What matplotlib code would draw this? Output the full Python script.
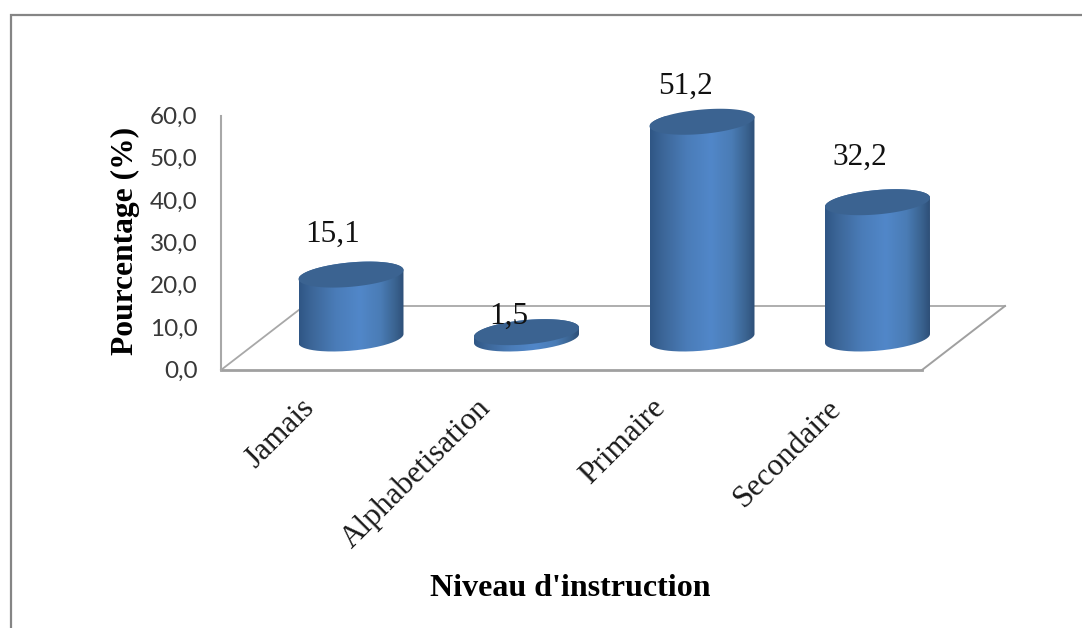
import numpy as np
import matplotlib
matplotlib.use("Agg")
import matplotlib.pyplot as plt
from matplotlib.colors import LinearSegmentedColormap
from matplotlib.lines import Line2D
from matplotlib.patches import PathPatch, Polygon
from matplotlib.path import Path
from matplotlib.transforms import ScaledTranslation

categories = ["Jamais", "Alphabetisation", "Primaire", "Secondaire"]
values = [15.1, 1.5, 51.2, 32.2]
value_ticks = [0, 10, 20, 30, 40, 50, 60]
label_shift_x = [-18, -18, -16, -18]
label_shift_y = [40, 16, 35, 45]

W, H = 1082, 628
AX_L, AX_R, AX_T, AX_B = 221, 1005, 116, 370
SERIF = "Liberation Serif"

fig = plt.figure(figsize=(W / 100, H / 100), dpi=100, facecolor="white")
ax = fig.add_axes([AX_L / W, 1 - AX_B / H, (AX_R - AX_L) / W, (AX_B - AX_T) / H])

# Scales: category index on x, percent on y
step_px = 175.5
x_min = (AX_L - 351) / step_px
x_max = (AX_R - 351) / step_px
px_per_unit = (AX_B - AX_T) / 60.0
ax.set_xlim(x_min, x_max)
ax.set_ylim(0, 60)
ax.patch.set_visible(False)


def px_x(dx):
    return dx / step_px


def px_y(dy):
    return dy / px_per_unit


# Chart floor in perspective
floor_depth = px_y(64)
floor_skew = px_x(83)
floor_right = x_min + px_x(701)
wall = "#a8a8a8"
ax.plot([x_min, x_min + floor_skew, x_max], [0, floor_depth, floor_depth],
        color="#a8a8a8", lw=1.3, zorder=1, clip_on=False, solid_joinstyle="miter")
ax.plot([x_max, floor_right], [floor_depth, 0], color="#a0a0a0", lw=1.4, zorder=1, clip_on=False)
ax.plot([x_min, floor_right], [0, 0], color="#a0a0a0", lw=2.0, zorder=1, clip_on=False)

for side in ("top", "right", "bottom"):
    ax.spines[side].set_visible(False)
ax.spines["left"].set_color(wall)
ax.spines["left"].set_linewidth(1.5)

# Value axis
ax.set_yticks(value_ticks)
ax.set_yticklabels([f"{v:.1f}".replace(".", ",") for v in value_ticks],
                   fontname="Lato", fontsize=17.5, color="#383838")
ax.tick_params(axis="y", length=0, pad=17)
for lab in ax.get_yticklabels():
    lab.set_transform(lab.get_transform() + ScaledTranslation(0, 0.5 / 100, fig.dpi_scale_trans))

# Category axis with slanted labels
ax.set_xticks(range(len(categories)))
ax.set_xticklabels(categories, fontname=SERIF, fontsize=22.5, color="#1a1a1a",
                   rotation=45, ha="right", va="top", rotation_mode="anchor")
ax.tick_params(axis="x", length=0, pad=17)
for lab in ax.get_xticklabels():
    lab.set_transform(lab.get_transform() + ScaledTranslation(-51 / 100, 0, fig.dpi_scale_trans))

ax.set_ylabel("Pourcentage (%)", fontname=SERIF, fontweight="bold", fontsize=22.7, color="black")
ax.yaxis.set_label_coords((125 - AX_L) / (AX_R - AX_L), (AX_B - 241) / (AX_B - AX_T))
ax.set_xlabel("Niveau d'instruction", fontname=SERIF, fontweight="bold", fontsize=23, color="black")
ax.xaxis.set_label_coords((570 - AX_L) / (AX_R - AX_L), (AX_B - 588) / (AX_B - AX_T))
ax.xaxis.label.set_va("center")
ax.yaxis.label.set_va("center")

# Cylinders: a horizontal shading image clipped to the body, with a flat cap on top
body_cmap = LinearSegmentedColormap.from_list(
    "cylinder",
    [(0.0, "#2f5685"), (0.12, "#3c6698"), (0.35, "#4a7cb8"), (0.58, "#5187c9"),
     (0.78, "#4a7cb5"), (0.92, "#3a6390"), (1.0, "#2e4f78")],
)
half_w = px_x(52.5)
semi_b = px_y(12.2)
shear = px_y(4.5)
base_y = px_y(31.5)
theta = np.linspace(0, 2 * np.pi, 181)


def rim(cx, cy, start, stop):
    t = np.linspace(start, stop, 91)
    return np.column_stack([cx + half_w * np.cos(t),
                            cy + semi_b * np.sin(t) + shear * np.cos(t)])


for i, v in enumerate(values):
    top = base_y + v
    # Lower rim runs left to right, upper rim returns right to left
    lower = rim(i, base_y, np.pi, 2 * np.pi)
    upper = rim(i, top, 0, np.pi)
    outline = Path(np.vstack([lower, upper, lower[:1]]), closed=False)
    clip = PathPatch(outline, transform=ax.transData, fc="none", ec="none")
    ax.add_patch(clip)
    img = ax.imshow(np.linspace(0, 1, 256)[None, :], cmap=body_cmap, aspect="auto",
                    extent=(i - half_w, i + half_w, base_y - 2 * semi_b, top + 2 * semi_b),
                    zorder=3)
    img.set_clip_path(clip)
    cap = np.column_stack([i + half_w * np.cos(theta),
                           top + semi_b * np.sin(theta) + shear * np.cos(theta)])
    ax.add_patch(Polygon(cap, closed=True, fc="#3b6391", ec="none", zorder=4, clip_on=False))

    ax.annotate(f"{v:.1f}".replace(".", ","), xy=(i, top),
                xytext=(label_shift_x[i] * 0.72, label_shift_y[i] * 0.72),
                textcoords="offset points", ha="center", va="center",
                fontname=SERIF, fontsize=22.5, color="#111111", zorder=6,
                annotation_clip=False)

ax.set_xlim(x_min, x_max)
ax.set_ylim(0, 60)

# Frame remnant along the top and left edges
frame = "#858585"
fig.add_artist(Line2D([11 / W, 11 / W, 1], [0, 1 - 14.5 / H, 1 - 14.5 / H],
                      color=frame, lw=1.6, transform=fig.transFigure,
                      solid_joinstyle="miter"))

fig.savefig("out.png", dpi=100, facecolor="white")
